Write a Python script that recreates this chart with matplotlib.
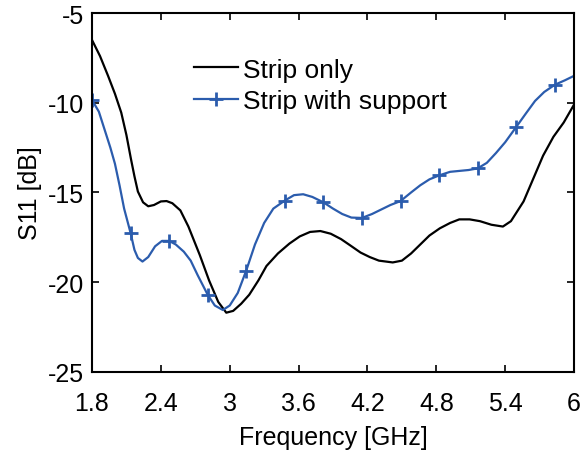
import matplotlib
matplotlib.use("Agg")
import matplotlib.pyplot as plt

plt.rcParams['font.family'] = ['Liberation Sans', 'DejaVu Sans']
plt.rcParams['axes.unicode_minus'] = False

# Strip only (black curve)
f_strip = [1.80, 1.87, 1.94, 2.00, 2.055, 2.10, 2.14, 2.17, 2.20, 2.245, 2.29, 2.34,
           2.40, 2.45, 2.50, 2.57, 2.64, 2.74, 2.82, 2.90, 2.97, 3.03, 3.10, 3.17,
           3.25, 3.32, 3.42, 3.52, 3.61, 3.70, 3.79, 3.88, 3.97, 4.05, 4.14, 4.22,
           4.30, 4.42, 4.50, 4.58, 4.66, 4.74, 4.83, 4.92, 5.00, 5.09, 5.18, 5.28,
           5.38, 5.45, 5.50, 5.56, 5.64, 5.73, 5.82, 5.91, 6.00]
s_strip = [-6.5, -7.4, -8.5, -9.5, -10.55, -11.8, -13.15, -14.1, -14.95, -15.55, -15.77, -15.7,
           -15.5, -15.48, -15.6, -16.0, -16.9, -18.5, -19.9, -21.1, -21.7, -21.6, -21.2, -20.7,
           -19.9, -19.1, -18.4, -17.85, -17.45, -17.2, -17.15, -17.3, -17.6, -17.95, -18.35, -18.6,
           -18.8, -18.9, -18.8, -18.4, -17.9, -17.4, -17.0, -16.7, -16.5, -16.5, -16.6, -16.8,
           -16.9, -16.6, -16.1, -15.5, -14.3, -12.95, -11.9, -11.1, -10.1]

# Strip with support (blue curve)
f_supp = [1.80, 1.86, 1.91, 1.96, 2.00, 2.04, 2.08, 2.136, 2.17, 2.20, 2.24, 2.29, 2.35,
          2.41, 2.472, 2.53, 2.60, 2.66, 2.72, 2.808, 2.87, 2.94, 3.00, 3.07, 3.144,
          3.22, 3.30, 3.38, 3.48, 3.56, 3.64, 3.72, 3.816, 3.90, 3.98, 4.06, 4.152,
          4.24, 4.32, 4.40, 4.488, 4.58, 4.66, 4.74, 4.824, 4.92, 5.00, 5.08, 5.16,
          5.24, 5.32, 5.40, 5.496, 5.58, 5.66, 5.74, 5.832, 5.92, 6.00]
s_supp = [-9.84, -10.5, -11.5, -12.5, -13.4, -14.6, -15.9, -17.25, -18.2, -18.65, -18.85, -18.6, -18.0,
          -17.7, -17.7, -17.9, -18.3, -18.8, -19.6, -20.7, -21.3, -21.55, -21.3, -20.6, -19.35,
          -17.9, -16.7, -15.9, -15.45, -15.15, -15.1, -15.25, -15.55, -15.9, -16.2, -16.4, -16.42,
          -16.2, -15.95, -15.7, -15.48, -15.0, -14.6, -14.27, -14.05, -13.85, -13.8, -13.75, -13.66,
          -13.35, -12.8, -12.2, -11.35, -10.6, -9.9, -9.4, -9.0, -8.75, -8.5]
# indices of the "+" markers on the blue curve
supp_markers = [0, 7, 14, 19, 24, 28, 32, 36, 40, 44, 48, 52, 56]

xticks = [1.8, 2.4, 3, 3.6, 4.2, 4.8, 5.4, 6]
xtick_labels = ['1.8', '2.4', '3', '3.6', '4.2', '4.8', '5.4', '6']
yticks = [-25, -20, -15, -10, -5]

fig = plt.figure(figsize=(5.84, 4.52), dpi=100)
ax = fig.add_axes([0.1575, 0.175, 0.8255, 0.794])

ax.plot(f_strip, s_strip, color='black', linewidth=1.6, label='Strip only')
ax.plot(f_supp, s_supp, color='#2b5cad', linewidth=1.6, marker='+',
        markersize=10, markeredgewidth=2, markevery=supp_markers,
        label='Strip with support')

ax.set_xlim(1.8, 6)
ax.set_ylim(-25, -5)
ax.set_xticks(xticks)
ax.set_xticklabels(xtick_labels)
ax.set_yticks(yticks)
ax.tick_params(direction='in', top=True, right=True, length=5, width=1.2,
               labelsize=18)
ax.tick_params(axis='x', pad=14)
ax.tick_params(axis='y', pad=6)
for sp in ax.spines.values():
    sp.set_linewidth(1.5)

ax.set_xlabel('Frequency [GHz]', fontsize=18, labelpad=7)
ax.set_ylabel('S11 [dB]', fontsize=18, labelpad=4)

ax.legend(loc='upper left', bbox_to_anchor=(0.19, 0.905), frameon=False,
          fontsize=19, handlelength=1.67, handletextpad=0.2, labelspacing=0.27,
          borderaxespad=0)

fig.savefig('out.png', dpi=100)
